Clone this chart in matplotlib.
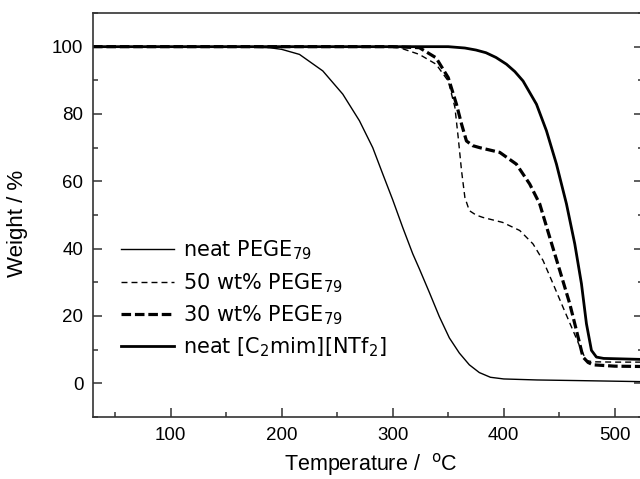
import matplotlib.pyplot as plt
from matplotlib.ticker import MultipleLocator

plt.rcParams['font.family'] = ['Liberation Sans', 'DejaVu Sans']
plt.rcParams['mathtext.fontset'] = 'custom'
plt.rcParams['mathtext.rm'] = 'DejaVu Sans'

# neat PEGE79
t_peg = [30, 150, 189, 200, 216, 237, 255, 270, 282, 291, 300, 309, 318, 324, 333,
         342, 351, 360, 369, 378, 388, 400, 430, 470, 525]
w_peg = [100, 100, 99.7, 99.2, 97.7, 92.8, 85.9, 78.0, 70.0, 62.2, 54.5, 46.3, 38.5,
         34.0, 27.0, 19.8, 13.5, 9.0, 5.5, 3.2, 1.8, 1.3, 1.0, 0.8, 0.5]

# 50 wt% PEGE79
t_50 = [30, 280, 306, 324, 339, 350, 356, 359, 362, 365, 369, 375, 381, 399, 414.4,
        426.4, 435.4, 444.4, 453.4, 462.4, 470, 474.5, 480, 500, 525]
w_50 = [100, 100, 99.7, 97.7, 94.8, 89.8, 82.0, 73.0, 63.1, 55.2, 51.3, 50.0, 49.3,
        47.8, 45.4, 41.4, 36.5, 29.6, 22.6, 15.7, 9.8, 6.8, 6.4, 6.3, 6.3]

# 30 wt% PEGE79
t_30 = [30, 300, 324, 339, 350, 357.4, 362, 366.4, 372, 378.4, 396.4, 411.4, 423.4,
        432.4, 441.4, 450.5, 459.5, 465.5, 471.4, 476, 480.5, 500, 525]
w_30 = [100, 100, 99.7, 96.7, 90.8, 82.9, 77.0, 72.0, 70.6, 70.0, 68.6, 65.1, 59.2,
        53.3, 43.4, 33.5, 23.6, 15.7, 7.8, 6.2, 5.5, 5.1, 5.0]

# neat [C2mim][NTf2]
t_il = [30, 350, 365, 375, 384, 393, 402.4, 410, 417.4, 429.5, 438.5, 447.5, 456.5,
        464, 470, 474.5, 479, 483.5, 490, 525]
w_il = [100, 100, 99.6, 99.0, 98.2, 96.8, 94.8, 92.6, 89.8, 82.9, 75.0, 65.1, 53.3,
        41.4, 29.6, 17.7, 9.8, 7.8, 7.4, 7.1]

labels = ['neat PEGE$_{79}$', '50 wt% PEGE$_{79}$', '30 wt% PEGE$_{79}$',
          'neat [C$_2$mim][NTf$_2$]']

fig = plt.figure(figsize=(6.4, 4.79), dpi=100)
ax = fig.add_axes([93 / 640, 62 / 479, 549.5 / 640, 404 / 479])

ax.plot(t_peg, w_peg, color='black', lw=1.0, label=labels[0])
ax.plot(t_50, w_50, color='black', lw=1.0, dashes=(4.3, 2.9), label=labels[1])
ax.plot(t_30, w_30, color='black', lw=2.3, dashes=(3.0, 1.2), label=labels[2])
ax.plot(t_il, w_il, color='black', lw=2.0, label=labels[3])

ax.set_xlim(30, 525)
ax.set_ylim(-10, 110)
ax.xaxis.set_major_locator(MultipleLocator(100))
ax.xaxis.set_minor_locator(MultipleLocator(50))
ax.yaxis.set_major_locator(MultipleLocator(20))
ax.yaxis.set_minor_locator(MultipleLocator(10))
ax.tick_params(which='both', direction='in', top=False, right=True,
               width=1.1, color='#333333', labelsize=13.5, pad=7)
ax.tick_params(which='major', length=6.5)
ax.tick_params(which='minor', length=3.4)
for s in ax.spines.values():
    s.set_linewidth(1.2)
    s.set_color('#333333')

ax.set_xlabel('Temperature /  $^{\\mathrm{o}}$C', fontsize=15.5)
ax.set_ylabel('Weight / %', fontsize=16)
ax.xaxis.set_label_coords(0.506, -0.085)
ax.yaxis.set_label_coords(-0.118, 0.48)

leg = ax.legend(loc='upper left', bbox_to_anchor=(0.035, 0.462), frameon=False,
                prop={'family': 'DejaVu Sans', 'size': 15}, handlelength=2.55,
                handletextpad=0.45, labelspacing=0.42, borderaxespad=0)

fig.savefig('out.png', dpi=100)
